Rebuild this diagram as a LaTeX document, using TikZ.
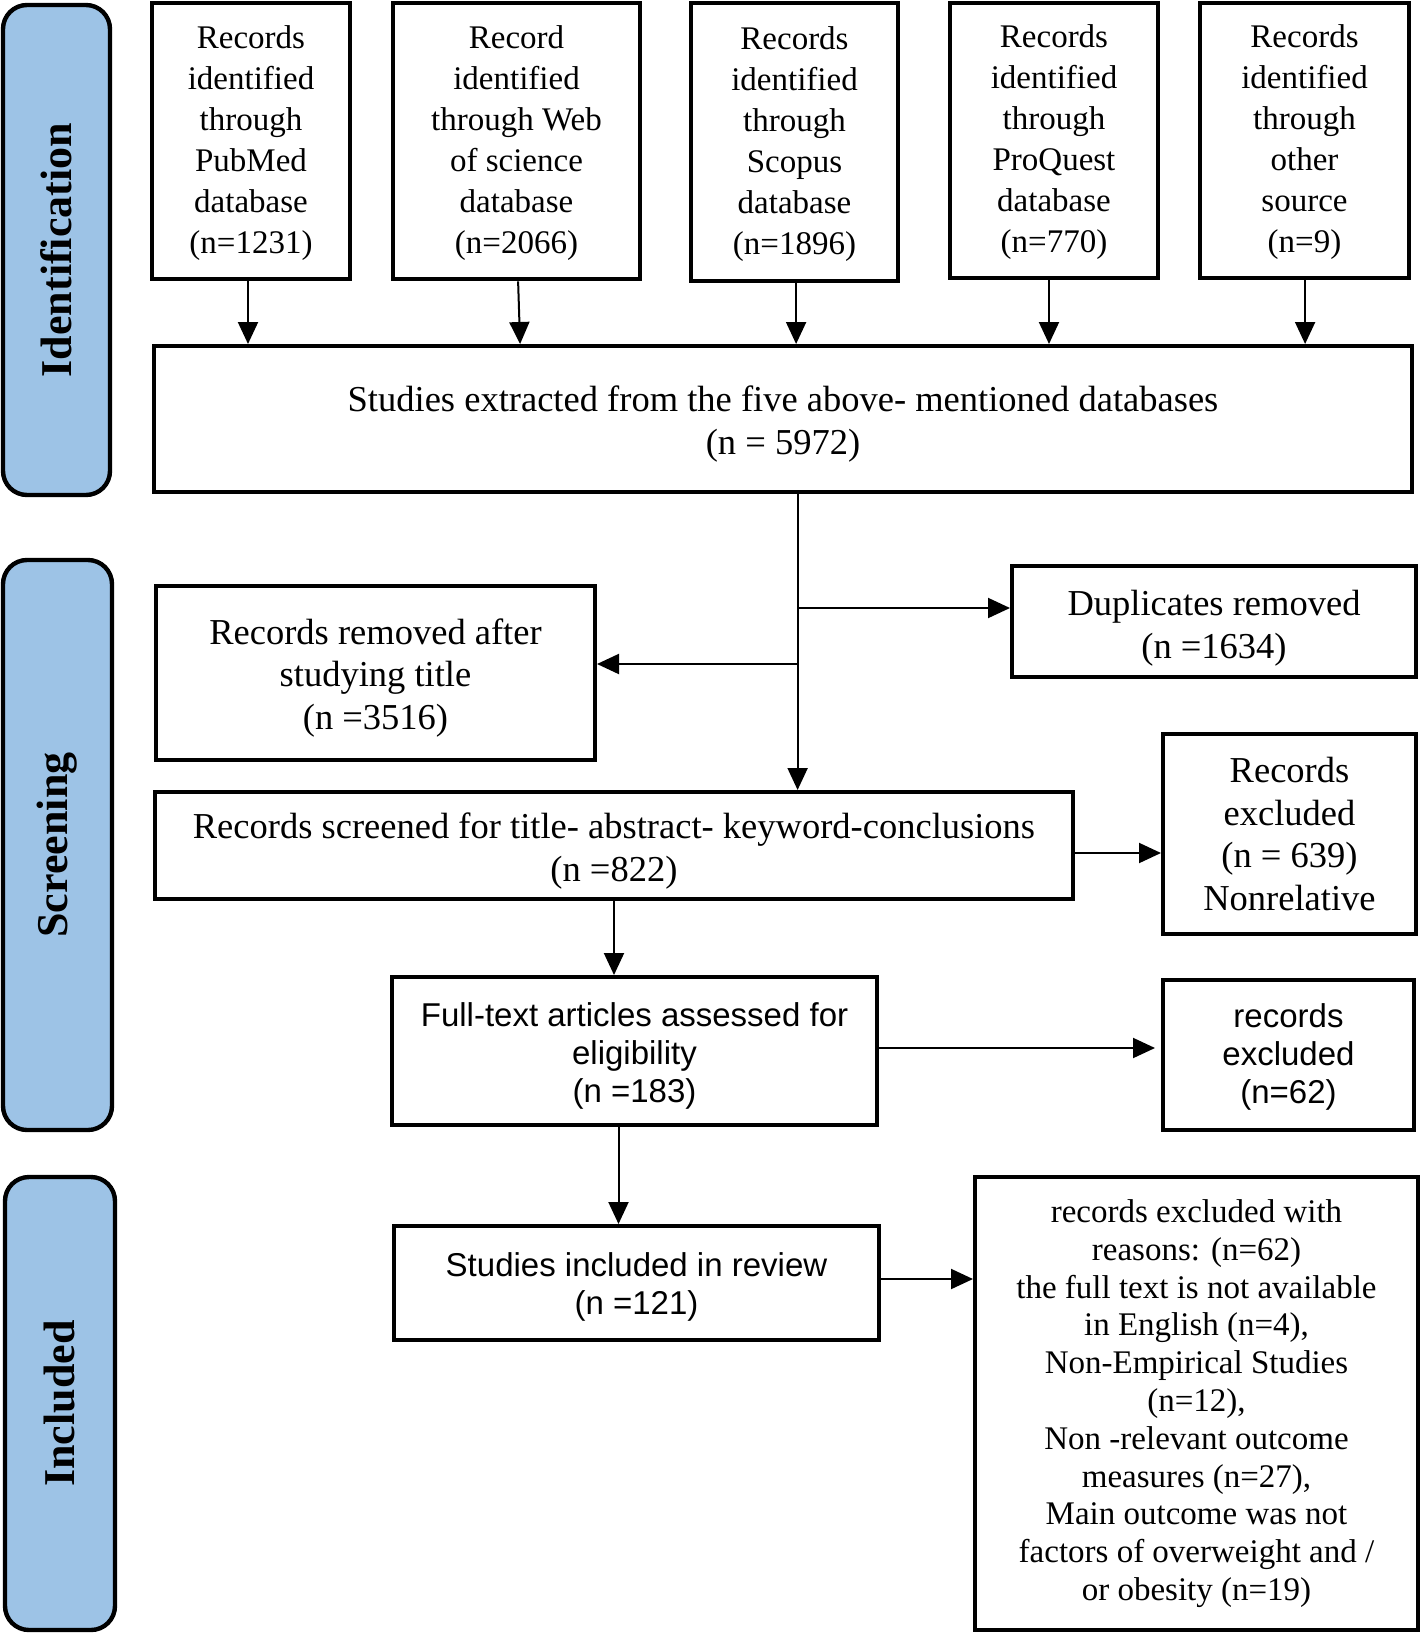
\documentclass[tikz,border=0pt]{standalone}
\usepackage{fontspec}
\setmainfont{Liberation Serif}
\setsansfont{Liberation Sans}
\usetikzlibrary{arrows.meta}
\definecolor{bandblue}{HTML}{9DC3E6}
\newcommand\fTop{\fontsize{16.5pt}{20.5pt}\selectfont}
\newcommand\fMid{\fontsize{18.25pt}{21.4pt}\selectfont}
\newcommand\fSmall{\fontsize{16.5pt}{18.9pt}\selectfont}
\newcommand\fSans{\sffamily\fontsize{16.5pt}{18.9pt}\selectfont}
\newcommand\fBand{\bfseries\fontsize{22pt}{26pt}\selectfont}
% name, x1, y1, x2, y2, style, first-line strut height, text
\newcommand\mybox[8]{%
  \node[#6, minimum width={(#4-#2)*0.5pt}, minimum height={(#5-#3)*0.5pt}]
    (#1) at ({(#2+#4)/2},{(#3+#5)/2}) {\rule{0pt}{#7}#8};}
\newcommand\myband[6]{%
  \node[band, rotate=90, minimum width={(#5-#3)*0.5pt}, minimum height={(#4-#2)*0.5pt}]
    (#1) at ({(#2+#4)/2},{(#3+#5)/2}) {#6};}
\begin{document}
\begin{tikzpicture}[x=0.5pt,y=-0.5pt,
  basebox/.style={draw=black, line width=2pt, inner sep=0pt, align=center, fill=white},
  topbox/.style={basebox, line width=2.3pt, font=\fTop},
  midbox/.style={basebox, font=\fMid},
  smallbox/.style={basebox, font=\fSmall},
  sansbox/.style={basebox, font=\fSans},
  band/.style={draw=black, line width=2.2pt, fill=bandblue, rounded corners=12pt, inner sep=0pt, font=\fBand},
  arr/.style={line width=1pt, -{Triangle[length=11pt,width=10pt]}}]
\useasboundingbox (0,0) rectangle (1425,1633);

% phase bands
\myband{bandI}{3}{5}{110}{495}{Identification}
\myband{bandS}{3}{560}{112}{1130}{Screening}
\myband{bandN}{5}{1177}{115}{1630}{Included}

% identification sources
\mybox{pub}{152}{3}{350}{279}{topbox}{13.3pt}{Records\\identified\\through\\PubMed\\database\\(n=1231)}
\mybox{wos}{393}{3}{640}{279}{topbox}{13.3pt}{Record\\identified\\through Web\\of science\\database\\(n=2066)}
\mybox{sco}{691}{3}{898}{281}{topbox}{13.3pt}{Records\\identified\\through\\Scopus\\database\\(n=1896)}
\mybox{pro}{950}{3}{1158}{278}{topbox}{13.3pt}{Records\\identified\\through\\ProQuest\\database\\(n=770)}
\mybox{oth}{1200}{3}{1409}{278}{topbox}{13.3pt}{Records\\identified\\through\\other\\source\\(n=9)}

\mybox{ext}{154}{346}{1412}{492}{midbox}{17.7pt}{Studies extracted from the five above- mentioned databases\\(n = 5972)}

% screening
\mybox{dup}{1012}{566}{1416}{677}{midbox}{19.5pt}{Duplicates removed\\(n =1634)}
\mybox{rem}{156}{586}{595}{760}{midbox}{17.7pt}{Records removed after\\studying title\\(n =3516)}
\mybox{scr}{155}{792}{1073}{899}{midbox}{18.5pt}{Records screened for title- abstract- keyword-conclusions\\(n =822)}
\mybox{excA}{1163}{734}{1416}{934}{midbox}{0pt}{Records\\excluded\\(n = 639)\\Nonrelative}
\mybox{full}{392}{977}{877}{1125}{sansbox}{17pt}{Full-text articles assessed for\\eligibility\\(n =183)}
\mybox{excB}{1163}{980}{1414}{1130}{sansbox}{13.8pt}{records\\excluded\\(n=62)}

% included
\mybox{sinc}{394}{1226}{879}{1340}{sansbox}{15.8pt}{Studies included in review\\(n =121)}
\mybox{big}{975}{1177}{1418}{1630}{smallbox}{0pt}{records excluded with\\reasons: (n=62)\\the full text is not available\\in English (n=4),\\Non-Empirical Studies\\(n=12),\\Non -relevant outcome\\measures (n=27),\\Main outcome was not\\factors of overweight and /\\or obesity (n=19)}

% connectors from sources
\draw[arr] ([xshift=-1.5pt]pub.south) -- ([xshift=-1.5pt]pub.south |- ext.north);
\draw[arr] ([xshift=0.8pt]wos.south) -- ([xshift=1.8pt]wos.south |- ext.north);
\draw[arr] ([xshift=0.8pt]sco.south) -- ([xshift=0.8pt]sco.south |- ext.north);
\draw[arr] ([xshift=-2.5pt]pro.south) -- ([xshift=-2.5pt]pro.south |- ext.north);
\draw[arr] ([xshift=0.3pt]oth.south) -- ([xshift=0.3pt]oth.south |- ext.north);

% trunk
\coordinate (tTop) at ([xshift=7.3pt]ext.south);
\coordinate (jR) at (797,608);
\coordinate (jL) at (797,664);
\draw[arr] (tTop) -- (tTop |- scr.north);
\draw[arr] (jR) -- (jR -| dup.west);
\draw[arr] (jL) -- (jL -| rem.east);

% side exclusions
\draw[arr] ([yshift=-3.75pt]scr.east) -- ([yshift=-3.75pt]scr.east -| excA.west);
\draw[arr] ([yshift=1.5pt]full.east) -- ([xshift=-3pt,yshift=1.5pt]full.east -| excB.west);
\draw[arr] ([yshift=2pt]sinc.east) -- ([yshift=2pt]sinc.east -| big.west);

% downward flow
\draw[arr] (scr.south) -- (scr.south |- full.north);
\draw[arr] ([xshift=-8pt]full.south) -- ([xshift=-8pt]full.south |- sinc.north);
\end{tikzpicture}
\end{document}
